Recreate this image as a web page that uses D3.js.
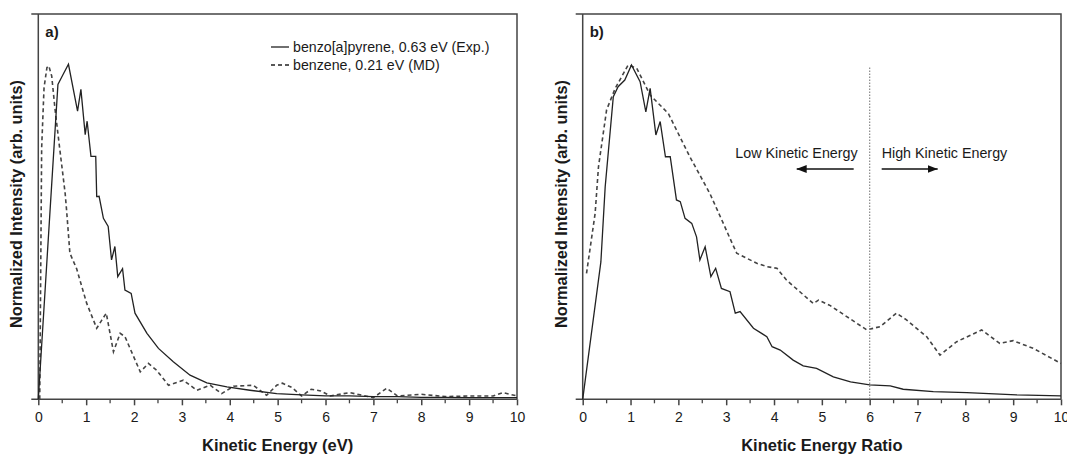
<!DOCTYPE html>
<html>
<head>
<meta charset="utf-8">
<script src="https://cdn.jsdelivr.net/npm/d3@7"></script>
<style>
  body { margin: 0; background: #fff; }
  svg { display: block; font-family: "Liberation Sans", Arial, sans-serif; }
  .tick text { font-size: 14px; fill: #1a1a1a; }
</style>
</head>
<body>
<svg id="chart" width="1067" height="454"></svg>
<script>
// ---- data ----
var xTicks = [0, 1, 2, 3, 4, 5, 6, 7, 8, 9, 10]

// panel a) benzo[a]pyrene, experiment
var bapEnergy = [0, 0.41, 0.52, 0.63, 0.82, 0.89, 0.98, 1.02, 1.1, 1.2, 1.22, 1.27, 1.36, 1.46, 1.53, 1.6, 1.66, 1.76, 1.81, 1.94, 2.02, 2.27, 2.51, 2.82, 3.17, 3.52, 3.94, 4.42, 4.98, 5.5, 6.0, 6.5, 7.0, 7.5, 8.0, 8.5, 9.0, 9.5, 10]
var bapIntensity = [0, 0.94, 0.97, 1.0, 0.86, 0.925, 0.79, 0.83, 0.725, 0.725, 0.605, 0.606, 0.54, 0.516, 0.416, 0.456, 0.366, 0.39, 0.326, 0.316, 0.257, 0.197, 0.152, 0.112, 0.072, 0.049, 0.037, 0.027, 0.017, 0.013, 0.01, 0.01, 0.008, 0.008, 0.006, 0.006, 0.005, 0.005, 0.005]

// panel a) benzene, MD
var bzEnergy = [0.03, 0.07, 0.12, 0.18, 0.22, 0.28, 0.35, 0.45, 0.56, 0.59, 0.66, 0.8, 1.01, 1.22, 1.33, 1.42, 1.57, 1.71, 1.81, 2.13, 2.3, 2.47, 2.72, 3.03, 3.31, 3.59, 3.83, 4.08, 4.49, 4.77, 4.98, 5.1, 5.3, 5.5, 5.7, 5.9, 6.1, 6.5, 7.0, 7.28, 7.5, 8.0, 8.5, 9.0, 9.5, 9.7, 10]
var bzIntensity = [0, 0.75, 0.93, 0.99, 0.995, 0.965, 0.865, 0.745, 0.616, 0.566, 0.436, 0.39, 0.287, 0.212, 0.237, 0.257, 0.142, 0.197, 0.187, 0.082, 0.107, 0.087, 0.042, 0.057, 0.027, 0.042, 0.017, 0.039, 0.042, 0.012, 0.042, 0.048, 0.035, 0.01, 0.03, 0.025, 0.01, 0.02, 0.005, 0.033, 0.01, 0.015, 0.008, 0.01, 0.01, 0.02, 0.01]

// panel b) same spectra against kinetic energy ratio
var bapRatio = [0, 0.38, 0.47, 0.64, 0.74, 0.88, 1.02, 1.2, 1.32, 1.41, 1.53, 1.62, 1.73, 1.83, 1.96, 2.04, 2.14, 2.28, 2.38, 2.45, 2.56, 2.68, 2.78, 2.9, 3.08, 3.19, 3.29, 3.57, 3.85, 3.96, 4.13, 4.4, 4.61, 4.89, 5.24, 5.6, 6.0, 6.43, 6.7, 7.33, 8.03, 9.07, 10]
var bapRatioIntensity = [0, 0.41, 0.634, 0.903, 0.933, 0.953, 0.998, 0.948, 0.858, 0.928, 0.789, 0.829, 0.724, 0.724, 0.595, 0.59, 0.54, 0.525, 0.485, 0.416, 0.455, 0.366, 0.391, 0.331, 0.321, 0.257, 0.262, 0.212, 0.187, 0.157, 0.147, 0.117, 0.1, 0.092, 0.067, 0.052, 0.043, 0.04, 0.03, 0.023, 0.02, 0.013, 0.01]

var bzRatio = [0.08, 0.26, 0.33, 0.5, 0.68, 0.95, 1.13, 1.41, 1.79, 2.24, 2.66, 2.94, 3.08, 3.22, 3.43, 3.64, 3.85, 4.06, 4.26, 4.54, 4.82, 4.93, 5.16, 5.52, 5.94, 6.22, 6.56, 6.77, 7.19, 7.47, 7.82, 8.34, 8.72, 9.0, 9.42, 10]
var bzRatioIntensity = [0.376, 0.555, 0.694, 0.864, 0.928, 0.998, 0.988, 0.908, 0.853, 0.724, 0.614, 0.525, 0.48, 0.436, 0.421, 0.406, 0.396, 0.391, 0.356, 0.321, 0.286, 0.296, 0.281, 0.247, 0.207, 0.217, 0.257, 0.237, 0.187, 0.132, 0.172, 0.207, 0.167, 0.175, 0.152, 0.107]

var legendLabels = ["benzo[a]pyrene, 0.63 eV (Exp.)", "benzene, 0.21 eV (MD)"]
var splitRatio = 6

function zip(xs, ys) { return xs.map(function(x, i) { return [x, ys[i]] }) }

var svg = d3.select("#chart")
var plotTop = 14, plotBottom = 399.3

function drawPanel(o) {
  var g = svg.append("g")
  var x = d3.scaleLinear().domain([0, 10]).range([o.left, o.right])
  var y = d3.scaleLinear().domain([0, 1.15]).range([plotBottom, plotTop])

  // frame: top + right edges, and the left axis
  g.append("path")
    .attr("d", "M" + (o.left - 7) + "," + plotTop + " H" + o.right + " V" + plotBottom)
    .attr("fill", "none").attr("stroke", "#444").attr("stroke-width", 1.5)
  g.append("line").attr("x1", o.left).attr("x2", o.left).attr("y1", plotTop).attr("y2", plotBottom)
    .attr("stroke", "#444").attr("stroke-width", 1.5)

  // bottom axis: integer ticks with labels, half ticks without
  var ax = g.append("g").attr("transform", "translate(0," + plotBottom + ")")
    .call(d3.axisBottom(x).tickValues(xTicks).tickSize(6).tickPadding(7).tickFormat(d3.format("d")))
  ax.select(".domain").attr("d", "M" + (o.left - 7) + ",0 H" + o.right).attr("stroke", "#444").attr("stroke-width", 1.5)
  ax.selectAll(".tick line").attr("stroke", "#444").attr("stroke-width", 1.5)
  ax.selectAll(".tick text").attr("font-family", null).attr("font-size", null)
  g.append("g").selectAll("line").data(d3.range(0.5, 10, 1)).enter().append("line")
    .attr("x1", x).attr("x2", x).attr("y1", plotBottom).attr("y2", plotBottom + 4)
    .attr("stroke", "#444").attr("stroke-width", 1.3)

  var line = d3.line().x(function(d) { return x(d[0]) }).y(function(d) { return y(d[1]) })

  g.append("path").datum(zip(o.dashX, o.dashY)).attr("d", line)
    .attr("fill", "none").attr("stroke", "#444").attr("stroke-width", 1.6).attr("stroke-dasharray", "4,3")
  g.append("path").datum(zip(o.solidX, o.solidY)).attr("d", line)
    .attr("fill", "none").attr("stroke", "#222").attr("stroke-width", 1.3)

  g.append("text").attr("x", o.left + 7).attr("y", 37).text(o.tag)
    .attr("font-size", 15).attr("font-weight", "bold").attr("fill", "#1a1a1a")

  g.append("text").attr("x", (o.left + o.right) / 2).attr("y", 451).attr("text-anchor", "middle")
    .attr("font-size", 16.5).attr("font-weight", "bold").attr("fill", "#1a1a1a").text(o.xTitle)

  g.append("text").attr("transform", "translate(" + (o.left - 16) + "," + 204 + ") rotate(-90)")
    .attr("text-anchor", "middle").attr("font-size", 16.3).attr("font-weight", "bold").attr("fill", "#1a1a1a")
    .text("Normalized Intensity (arb. units)")

  return { g: g, x: x, y: y }
}

var pa = drawPanel({ left: 38.3, right: 517, tag: "a)", xTitle: "Kinetic Energy (eV)",
  solidX: bapEnergy, solidY: bapIntensity, dashX: bzEnergy, dashY: bzIntensity })

var pb = drawPanel({ left: 582.7, right: 1061, tag: "b)", xTitle: "Kinetic Energy Ratio",
  solidX: bapRatio, solidY: bapRatioIntensity, dashX: bzRatio, dashY: bzRatioIntensity })

// legend in panel a
var leg = pa.g.append("g")
legendLabels.forEach(function(t, i) {
  var yy = 47 + i * 18
  leg.append("line").attr("x1", 271).attr("x2", 289).attr("y1", yy).attr("y2", yy)
    .attr("stroke", "#222").attr("stroke-width", 1.3)
    .attr("stroke-dasharray", i == 1 ? "4,3" : null)
  leg.append("text").attr("x", 293).attr("y", yy + 5).attr("font-size", 14.2).attr("fill", "#1a1a1a").text(t)
})

// panel b annotations
var xs = pb.x(splitRatio)
pb.g.append("line").attr("x1", xs).attr("x2", xs).attr("y1", pb.y(0.99)).attr("y2", plotBottom)
  .attr("stroke", "#888").attr("stroke-width", 1.2).attr("stroke-dasharray", "1.5,1.5")

var defs = svg.append("defs")
defs.append("marker").attr("id", "arrowhead").attr("viewBox", "0 -4 10 8")
  .attr("refX", 10).attr("refY", 0).attr("orient", "auto")
  .attr("markerWidth", 10).attr("markerHeight", 8).attr("markerUnits", "userSpaceOnUse")
  .append("path").attr("d", "M0,-4 L10,0 L0,4 Z").attr("fill", "#111")

pb.g.append("text").attr("x", xs - 12).attr("y", 158).attr("text-anchor", "end")
  .attr("font-size", 14.3).attr("fill", "#1a1a1a").text("Low Kinetic Energy")
pb.g.append("text").attr("x", xs + 12).attr("y", 158)
  .attr("font-size", 14.3).attr("fill", "#1a1a1a").text("High Kinetic Energy")
pb.g.append("line").attr("x1", xs - 16).attr("x2", xs - 73).attr("y1", 169).attr("y2", 169)
  .attr("stroke", "#111").attr("stroke-width", 1.5).attr("marker-end", "url(#arrowhead)")
pb.g.append("line").attr("x1", xs + 12).attr("x2", xs + 68).attr("y1", 169).attr("y2", 169)
  .attr("stroke", "#111").attr("stroke-width", 1.5).attr("marker-end", "url(#arrowhead)")
</script>
</body>
</html>
